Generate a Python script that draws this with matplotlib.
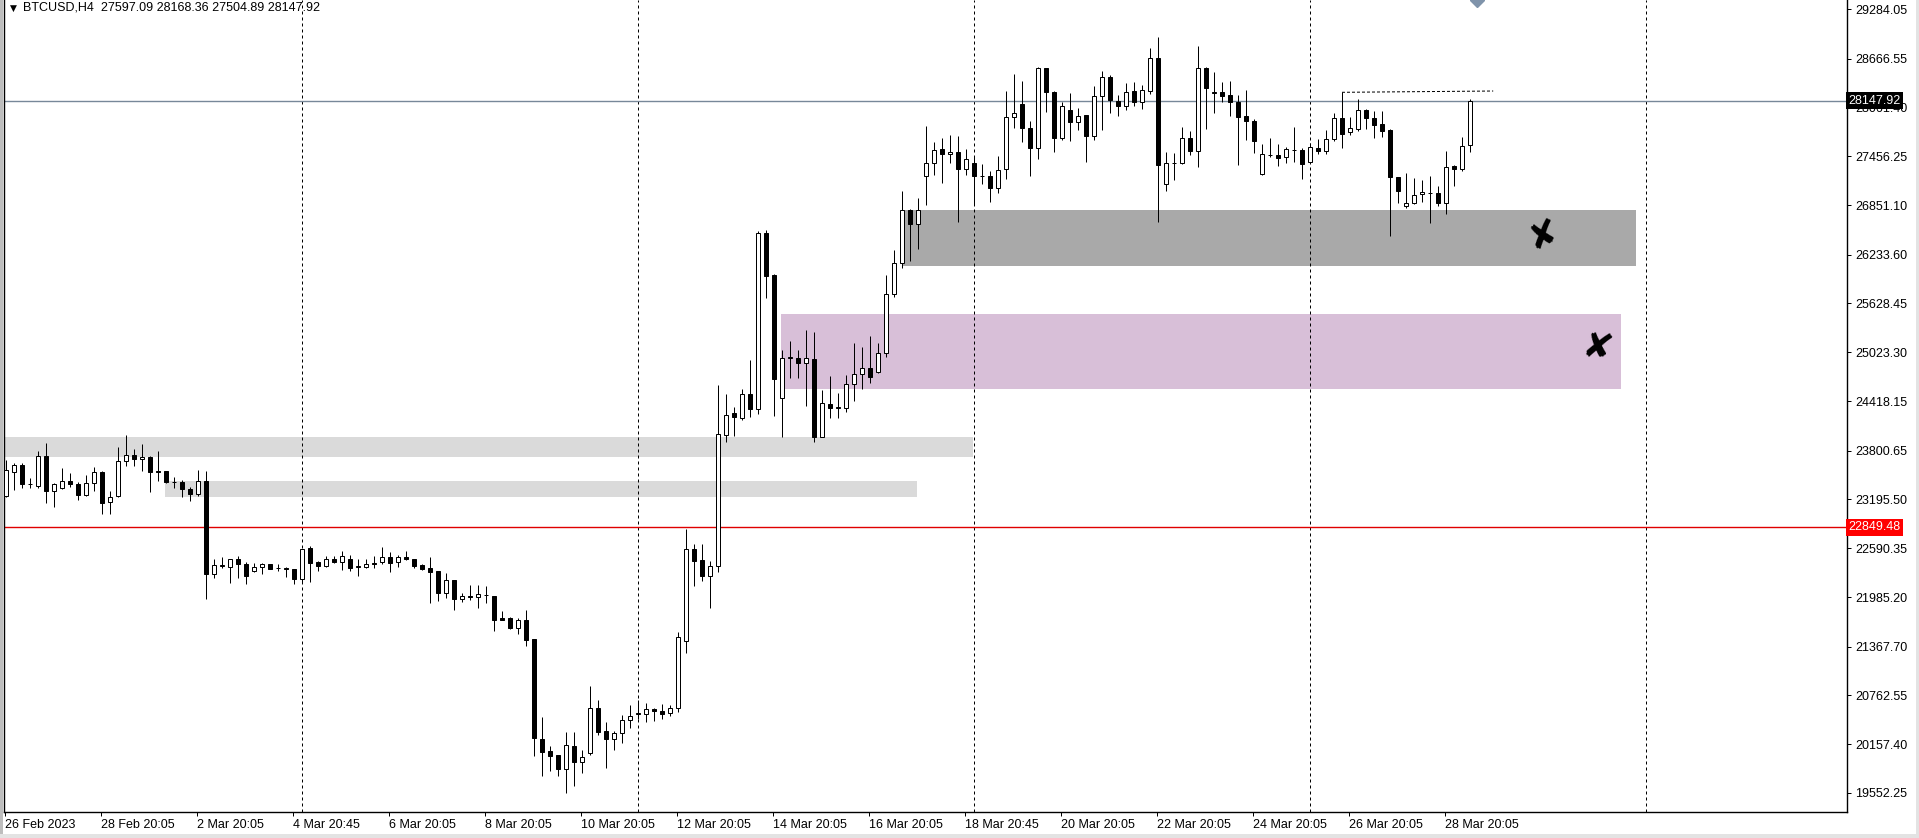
import numpy as np
import matplotlib
matplotlib.use('Agg')
import matplotlib.pyplot as plt
from matplotlib.patches import Rectangle
from matplotlib.transforms import blended_transform_factory

plt.rcParams['font.family'] = ['Liberation Sans', 'DejaVu Sans']

symbol = "BTCUSD,H4"

opens = [
    23239, 23533, 23624, 23390, 23363, 23736, 23305, 23335, 23425, 23388,
    23255, 23397, 23533, 23161, 23235, 23670, 23744, 23695, 23720, 23546,
    23546, 23417, 23417, 23322, 23260, 23425, 22267, 22370, 22362, 22453,
    22395, 22312, 22354, 22395, 22344, 22346, 22330, 22205, 22589, 22416,
    22374, 22453, 22424, 22453, 22360, 22362, 22404, 22416, 22482, 22416,
    22482, 22453, 22379, 22341, 22308, 22031, 22193, 21961, 21998, 21982,
    22008, 21998, 21721, 21721, 21605, 21700, 21464, 20223, 20074, 20024,
    19847, 20136, 19941, 20053, 20604, 20322, 20219, 20293, 20459, 20530,
    20533, 20591, 20570, 20542, 20604, 21439, 22577, 22445, 22250, 22370,
    23993, 24266, 24204, 24502, 24315, 26500, 25982, 24459, 24952, 24956,
    24894, 24940, 23975, 24377, 24334, 24336, 24626, 24750, 24824, 24775,
    25010, 25743, 26128, 26786, 26612, 27215, 27369, 27544, 27482, 27507,
    27295, 27369, 27213, 27211, 27059, 27295, 27940, 28101, 27803, 27555,
    28548, 28254, 27687, 28027, 27886, 27965, 27711, 28208, 28436, 28142,
    28077, 28266, 28134, 28270, 28672, 27108, 27374, 27376, 27679, 27525,
    28548, 28244, 28254, 28213, 28126, 27952, 27894, 27232, 27470, 27472,
    27443, 27536, 27534, 27389, 27555, 27525, 27667, 27928, 27754, 27791,
    28031, 27928, 27857, 27782, 27195, 26843, 26872, 26984, 27002, 26996,
    26872, 27335, 27298, 27597.09]

highs = [
    23686, 23645, 23653, 23459, 23798, 23901, 23404, 23591, 23528, 23417,
    23500, 23603, 23550, 23305, 23851, 23996, 23826, 23885, 23736, 23798,
    23550, 23479, 23438, 23355, 23562, 23550, 22453, 22482, 22460, 22494,
    22416, 22404, 22411, 22400, 22395, 22362, 22335, 22580, 22618, 22436,
    22494, 22494, 22556, 22507, 22453, 22453, 22494, 22602, 22540, 22507,
    22556, 22458, 22391, 22486, 22312, 22280, 22198, 22039, 22134, 22134,
    22122, 22003, 21811, 21741, 21721, 21824, 21470, 20500, 20136, 20030,
    20313, 20313, 20086, 20881, 20707, 20437, 20322, 20521, 20645, 20707,
    20673, 20604, 20653, 20645, 21547, 22829, 22643, 22643, 22436, 24617,
    24502, 24340, 24563, 24924, 26529, 26541, 25990, 25051, 25163, 25051,
    25300, 25271, 24555, 24729, 24514, 24741, 25135, 25089, 25225, 25135,
    25982, 26293, 27025, 26798, 26935, 27832, 27637, 27679, 27720, 27708,
    27543, 27443, 27356, 27273, 27460, 28266, 28477, 28391, 27894, 28568,
    28555, 28266, 28126, 28241, 28052, 27970, 28328, 28515, 28465, 28217,
    28370, 28382, 28341, 28796, 28933, 27505, 27493, 27816, 27770, 28825,
    28568, 28498, 28382, 28391, 28217, 28279, 27919, 27605, 27687, 27605,
    27575, 27816, 27555, 27617, 27671, 27782, 27997, 28250, 27940, 28163,
    28039, 28018, 28018, 27790, 27200, 27245, 27190, 27162, 27211, 27087,
    27522, 27348, 27692, 28168.36]

lows = [
    23227, 23314, 23342, 23335, 23342, 23149, 23106, 23330, 23355, 23190,
    23239, 23301, 23016, 23016, 23230, 23615, 23615, 23553, 23293, 23429,
    23404, 23335, 23230, 23177, 23239, 21961, 22225, 22341, 22163, 22225,
    22143, 22300, 22271, 22329, 22312, 22238, 22143, 22175, 22175, 22312,
    22362, 22411, 22320, 22312, 22250, 22350, 22346, 22391, 22300, 22362,
    22445, 22341, 22320, 21915, 21936, 21977, 21824, 21927, 21948, 21853,
    21907, 21567, 21695, 21585, 21522, 21381, 20015, 19764, 19830, 19768,
    19549, 19644, 19805, 20024, 20273, 19868, 20086, 20169, 20355, 20471,
    20437, 20446, 20467, 20508, 20562, 21294, 22126, 22188, 21853, 22300,
    23908, 23988, 24182, 24224, 24253, 25701, 24236, 23975, 24707, 24707,
    24360, 23913, 23970, 24212, 24204, 24286, 24422, 24568, 24646, 24770,
    24968, 25713, 26066, 26160, 26305, 26851, 27224, 27121, 27369, 26636,
    27224, 26860, 27108, 26892, 26997, 27178, 27811, 27637, 27215, 27426,
    28009, 27514, 27658, 27650, 27782, 27389, 27658, 27782, 27996, 27956,
    28034, 28081, 28042, 28229, 26644, 27030, 27162, 27365, 27472, 27327,
    27795, 27997, 28134, 27956, 27348, 27658, 27501, 27228, 27451, 27339,
    27369, 27381, 27170, 27385, 27481, 27481, 27650, 27563, 27720, 27774,
    27791, 27679, 27699, 26470, 26880, 26810, 26868, 26892, 26624, 26843,
    26740, 27091, 27273, 27504.89]

closes = [
    23562, 23624, 23384, 23386, 23736, 23305, 23384, 23425, 23384, 23255,
    23401, 23533, 23149, 23230, 23670, 23744, 23702, 23720, 23541, 23540,
    23417, 23410, 23322, 23260, 23425, 22267, 22379, 22378, 22453, 22391,
    22250, 22354, 22395, 22337, 22348, 22330, 22205, 22577, 22411, 22374,
    22453, 22424, 22494, 22346, 22364, 22395, 22391, 22482, 22404, 22482,
    22453, 22374, 22330, 22300, 22039, 22193, 21961, 21998, 21982, 22023,
    22012, 21700, 21700, 21605, 21700, 21452, 20239, 20065, 20015, 19847,
    20148, 19941, 20003, 20604, 20313, 20219, 20293, 20459, 20508, 20545,
    20591, 20570, 20529, 20604, 21485, 22577, 22436, 22250, 22370, 24005,
    24241, 24216, 24502, 24315, 26500, 25974, 24691, 24948, 24960, 24894,
    24948, 23975, 24390, 24328, 24338, 24626, 24750, 24824, 24720, 25010,
    25743, 26128, 26786, 26612, 26786, 27369, 27530, 27482, 27507, 27295,
    27419, 27215, 27217, 27066, 27282, 27940, 27990, 27803, 27555, 28548,
    28250, 27687, 28077, 27886, 27960, 27711, 28208, 28436, 28155, 28084,
    28258, 28134, 28275, 28672, 27348, 27369, 27378, 27679, 27525, 28548,
    28307, 28248, 28208, 28134, 27947, 27898, 27650, 27481, 27474, 27438,
    27543, 27540, 27360, 27567, 27525, 27667, 27928, 27737, 27803, 28031,
    27928, 27844, 27774, 27195, 27029, 26872, 26971, 27016, 27006, 26872,
    27327, 27295, 27588, 28147.92]

ytick_values = [29284.05, 28666.55, 28061.40, 27456.25, 26851.10, 26233.60,
                25628.45, 25023.30, 24418.15, 23800.65, 23195.50, 22590.35,
                21985.20, 21367.70, 20762.55, 20157.40, 19552.25]

date_labels = ["26 Feb 2023", "28 Feb 20:05", "2 Mar 20:05", "4 Mar 20:45",
               "6 Mar 20:05", "8 Mar 20:05", "10 Mar 20:05", "12 Mar 20:05",
               "14 Mar 20:05", "16 Mar 20:05", "18 Mar 20:45", "20 Mar 20:05",
               "22 Mar 20:05", "24 Mar 20:05", "26 Mar 20:05", "28 Mar 20:05"]
date_label_bars = [0, 12, 24, 36, 48, 60, 72, 84, 96, 108, 120, 132, 144, 156, 168, 180]

week_separator_bars = [36.95, 78.95, 120.95, 162.95, 204.95]

zone_start = [-1, 19.9, 96.9, 112.1]
zone_end = [120.9, 113.9, 201.9, 203.8]
zone_low = [23727, 23230, 24567, 26100]
zone_high = [23975, 23425, 25498, 26790]
zone_colors = ['#DADADA', '#DADADA', '#D8BFD8', '#A9A9A9']

mark_bars = [192.1, 198.9]
mark_prices = [26479, 25064]
mark_rotation = [20, -10]

level_line = 22849.48
trend_bars = [167, 185.9]
trend_prices = [28250, 28266]

# ---------------------------------------------------------------
W, H = 1919, 838
fig = plt.figure(figsize=(W / 100, H / 100), dpi=100)
fig.patch.set_facecolor('white')
ax = fig.add_axes([4 / W, 26 / H, 1843 / W, 812 / H])
ax.set_facecolor('white')

n = len(closes)
x = np.arange(n)
o = np.array(opens, float)
h = np.array(highs, float)
l = np.array(lows, float)
c = np.array(closes, float)

lw = 0.72

# zones
for x0, x1, lo, hi, col in zip(zone_start, zone_end, zone_low, zone_high, zone_colors):
    ax.add_patch(Rectangle((x0, lo), x1 - x0, hi - lo, facecolor=col,
                           edgecolor='none', zorder=1))

# week separators
for sb in week_separator_bars:
    ax.axvline(sb, color='black', lw=lw, dashes=(3, 3), zorder=2)

# horizontal price lines
ax.axhline(closes[-1], color='#778899', lw=1.0, zorder=2)
ax.axhline(level_line, color='#E00000', lw=1.0, zorder=2)

# trend dotted line
ax.plot(trend_bars, trend_prices, color='black', lw=lw, dashes=(3, 2), zorder=2)

# candles
ax.vlines(x, l, h, color='black', lw=lw, zorder=3)
up = c >= o
body_bottom = np.minimum(o, c)
body_height = np.abs(c - o)
ax.bar(x[up], body_height[up], bottom=body_bottom[up], width=0.5,
       facecolor='white', edgecolor='black', linewidth=lw, zorder=4)
ax.bar(x[~up], body_height[~up], bottom=body_bottom[~up], width=0.5,
       facecolor='black', edgecolor='black', linewidth=lw, zorder=4)

# hand-drawn style marks
for mb, mp, rot in zip(mark_bars, mark_prices, mark_rotation):
    ax.text(mb, mp, '\u2718', fontsize=26, ha='center', va='center',
            family='DejaVu Sans', color='black', rotation=rot, zorder=6)

ymin, ymax = 19316.4, 29395.8
ax.set_xlim(-0.25, 230.125)
ax.set_ylim(ymin, ymax)

# shift marker at top
ax.plot([183.9], [ymax], marker='D', ms=7, color='#7F93AA', clip_on=False, zorder=7)

# axes styling
ax.spines['top'].set_visible(False)
for s in ['left', 'right', 'bottom']:
    ax.spines[s].set_color('black')
    ax.spines[s].set_linewidth(1.0)

ax.yaxis.tick_right()
ax.set_yticks(ytick_values)
ax.set_yticklabels([f"{v:.2f}" for v in ytick_values])
ax.tick_params(axis='y', direction='out', length=3, width=lw, pad=3,
               labelsize=9, colors='black')

ax.set_xticks([b - 0.12 for b in date_label_bars])
ax.set_xticklabels(date_labels)
for lbl in ax.get_xticklabels():
    lbl.set_horizontalalignment('left')
ax.tick_params(axis='x', direction='out', length=3, width=lw, pad=2,
               labelsize=9, colors='black')

# price tags on the right axis
tr = blended_transform_factory(ax.transAxes, ax.transData)
ax.text(1.0008, closes[-1], f"{closes[-1]:.2f}", transform=tr, color='white',
        fontsize=9, va='center', ha='left', clip_on=False, zorder=10,
        bbox=dict(boxstyle='square,pad=0.22', facecolor='black', edgecolor='none'))
ax.text(1.0008, level_line, f"{level_line:.2f}", transform=tr, color='white',
        fontsize=9, va='center', ha='left', clip_on=False, zorder=10,
        bbox=dict(boxstyle='square,pad=0.22', facecolor='#FF0000', edgecolor='none'))

# header
fig.text(10 / W, 1 - 8.5 / H, '\u25BC', fontsize=6.5, family='DejaVu Sans',
         va='center', ha='left', color='black')
fig.text(23 / W, 1 - 8 / H,
         f"{symbol}  {opens[-1]:.2f} {highs[-1]:.2f} {lows[-1]:.2f} {closes[-1]:.2f}",
         fontsize=9, va='center', ha='left', color='black')

# window borders
fig.add_artist(Rectangle((0, 0), 3 / W, 1, transform=fig.transFigure,
                         facecolor='#BDBDBD', edgecolor='none'))
fig.add_artist(Rectangle((1 - 3 / W, 0), 3 / W, 1, transform=fig.transFigure,
                         facecolor='#E3E3E3', edgecolor='none'))
fig.add_artist(Rectangle((0, 0), 1, 4 / H, transform=fig.transFigure,
                         facecolor='#E3E3E3', edgecolor='none'))

fig.savefig('out.png', dpi=100, facecolor='white')
